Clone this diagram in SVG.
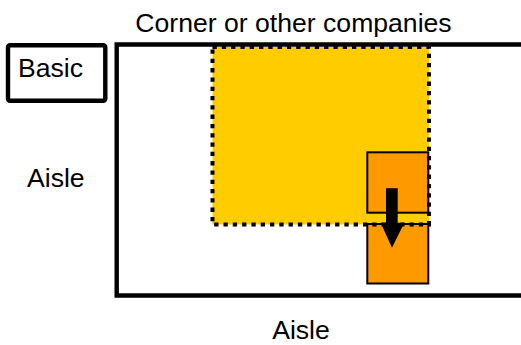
<svg xmlns="http://www.w3.org/2000/svg" width="521" height="345" viewBox="0 0 521 345">
<style>
text{font-family:"Liberation Sans",Arial,sans-serif;font-size:26.6px;fill:#000}
.frame{fill:none;stroke:#000;stroke-width:4.4}
.orange{fill:#FF9900;stroke:#000;stroke-width:2}
</style>
<rect width="521" height="345" fill="#fff"/>
<g id="title"><text x="293.5" y="32" text-anchor="middle">Corner or other companies</text></g>
<g id="basic">
<rect x="8" y="45.3" width="97.3" height="55.4" rx="2" class="frame"/>
<text x="18" y="77">Basic</text>
</g>
<g id="aisle-left"><text x="27" y="187">Aisle</text></g>
<g id="aisle-bottom"><text x="301" y="339" text-anchor="middle">Aisle</text></g>
<g id="frame"><path d="M521,44.5 H116.7 V295.5 H521" class="frame"/></g>
<g id="area">
<rect x="212.5" y="47" width="216.5" height="177.5" fill="#FFCC00"/>
</g>
<g id="box-top"><rect x="367.3" y="152.3" width="61" height="60.4" class="orange"/></g>
<g id="box-bottom"><rect x="367.3" y="224" width="61" height="59.5" class="orange"/></g>
<g id="area-border"><rect x="212.5" y="47" width="216.5" height="177.5" fill="none" stroke="#000" stroke-width="4" stroke-dasharray="4.3 5"/></g>
<g id="connectors">
<polygon points="386,188.3 397.7,188.3 397.7,222.7 404.3,222.7 392,247.7 380.7,222.7 386,222.7" fill="#000"/>
</g>
</svg>
